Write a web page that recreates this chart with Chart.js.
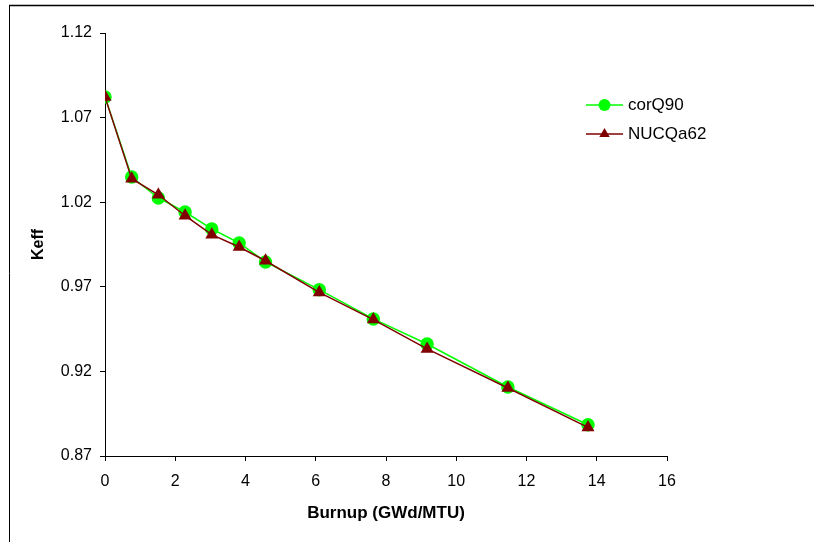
<!DOCTYPE html>
<html>
<head>
<meta charset="utf-8">
<script src="https://cdn.jsdelivr.net/npm/chart.js@4/dist/chart.umd.min.js"></script>
<style>
  html, body { margin: 0; padding: 0; background: #fff; }
  #wrap { width: 814px; height: 542px; position: relative; }
  canvas { display: block; }
</style>
</head>
<body>
<div id="wrap"><canvas id="c" width="814" height="542"></canvas></div>
<script>
// Burnup steps (GWd/MTU) and k-effective from the two libraries
const burnup = [0, 0.76, 1.52, 2.28, 3.04, 3.82, 4.57, 6.10, 7.64, 9.17, 11.47, 13.75];
const corQ90 = [1.0822, 1.0349, 1.0225, 1.0142, 1.0042, 0.9959, 0.9847, 0.9683, 0.9510, 0.9362, 0.9108, 0.8885];
const nucQa62 = [1.0822, 1.0339, 1.0244, 1.0120, 1.0008, 0.9935, 0.9854, 0.9667, 0.9506, 0.9333, 0.9102, 0.8869];

const seriesNames = ['corQ90', 'NUCQa62'];
const yTickValues = [0.87, 0.92, 0.97, 1.02, 1.07, 1.12];
const yTickLabels = ['0.87', '0.92', '0.97', '1.02', '1.07', '1.12'];
const xTickValues = [0, 2, 4, 6, 8, 10, 12, 14, 16];

const FONT = "'Liberation Sans', Arial, sans-serif";
const GREEN = '#00ff00';
const DARKRED = '#800000';

const toPoints = (xs, ys) => xs.map((x, i) => ({ x: x, y: ys[i] }));

// Outer frame (only top and left edges fall inside the canvas)
const framePlugin = {
  id: 'frame',
  beforeDraw(chart) {
    const ctx = chart.ctx;
    ctx.save();
    ctx.strokeStyle = '#000';
    ctx.lineWidth = 1.5;
    ctx.beginPath();
    ctx.moveTo(9, 5.5);
    ctx.lineTo(814, 5.5);
    ctx.stroke();
    ctx.lineWidth = 1;
    ctx.beginPath();
    ctx.moveTo(9.5, 5);
    ctx.lineTo(9.5, 542);
    ctx.stroke();
    ctx.restore();
  }
};

// Legend entries: a short line with the series marker in its middle
const legendPlugin = {
  id: 'lineLegend',
  afterDraw(chart) {
    const ctx = chart.ctx;
    const x0 = 586, x1 = 623, xm = 604.5, tx = 628;
    const rows = [105, 134];
    ctx.save();
    chart.data.datasets.forEach((ds, i) => {
      const y = rows[i];
      ctx.strokeStyle = ds.borderColor;
      ctx.lineWidth = ds.borderWidth;
      ctx.beginPath();
      ctx.moveTo(x0, y);
      ctx.lineTo(x1, y);
      ctx.stroke();
      ctx.fillStyle = ds.pointBackgroundColor;
      const r = ds.pointRadius;
      ctx.beginPath();
      if (ds.pointStyle === 'triangle') {
        ctx.moveTo(xm, y - r);
        ctx.lineTo(xm + r * Math.sin(2 * Math.PI / 3), y + r / 2);
        ctx.lineTo(xm - r * Math.sin(2 * Math.PI / 3), y + r / 2);
        ctx.closePath();
      } else {
        ctx.arc(xm, y, r, 0, Math.PI * 2);
      }
      ctx.fill();
      ctx.fillStyle = '#000';
      ctx.font = '17px ' + FONT;
      ctx.textBaseline = 'middle';
      ctx.textAlign = 'left';
      ctx.fillText(ds.label, tx, y);
    });
    ctx.restore();
  }
};

new Chart(document.getElementById('c'), {
  type: 'scatter',
  data: {
    datasets: [
      {
        label: seriesNames[0],
        data: toPoints(burnup, corQ90),
        showLine: true,
        borderColor: GREEN,
        backgroundColor: GREEN,
        pointBackgroundColor: GREEN,
        pointBorderColor: GREEN,
        borderWidth: 1.5,
        pointRadius: 6,
        pointStyle: 'circle',
        order: 1
      },
      {
        label: seriesNames[1],
        data: toPoints(burnup, nucQa62),
        showLine: true,
        borderColor: DARKRED,
        backgroundColor: DARKRED,
        pointBackgroundColor: DARKRED,
        pointBorderColor: DARKRED,
        borderWidth: 1.5,
        pointRadius: 6,
        pointStyle: 'triangle',
        order: 0
      }
    ]
  },
  options: {
    responsive: false,
    animation: false,
    events: [],
    layout: { padding: { left: 0, top: 33, right: 147, bottom: 0 } },
    plugins: {
      legend: { display: false },
      tooltip: { enabled: false }
    },
    scales: {
      x: {
        type: 'linear',
        min: 0,
        max: 16,
        afterBuildTicks(scale) {
          scale.ticks = xTickValues.map(v => ({ value: v }));
        },
        afterFit(scale) { scale.height = 86; },
        grid: {
          drawOnChartArea: false,
          drawTicks: true,
          tickLength: 5,
          color: '#000'
        },
        border: { display: true, color: '#000', width: 1 },
        ticks: {
          color: '#000',
          font: { family: FONT, size: 16 },
          padding: 11,
          maxRotation: 0
        },
        title: {
          display: true,
          text: 'Burnup (GWd/MTU)',
          color: '#000',
          font: { family: FONT, size: 17, weight: 'bold' },
          padding: { top: 0, bottom: 18 }
        }
      },
      y: {
        type: 'linear',
        min: 0.87,
        max: 1.12,
        afterBuildTicks(scale) {
          scale.ticks = yTickValues.map(v => ({ value: v }));
        },
        afterFit(scale) { scale.width = 105; },
        grid: {
          drawOnChartArea: false,
          drawTicks: true,
          tickLength: 5,
          color: '#000'
        },
        border: { display: true, color: '#000', width: 1 },
        ticks: {
          color: '#000',
          font: { family: FONT, size: 16 },
          padding: 8,
          callback(value) {
            const i = yTickValues.findIndex(v => Math.abs(v - value) < 1e-9);
            return i >= 0 ? yTickLabels[i] : '';
          }
        },
        title: {
          display: true,
          text: 'Keff',
          color: '#000',
          font: { family: FONT, size: 16, weight: 'bold' },
          padding: { top: 29, bottom: 0 }
        }
      }
    }
  },
  plugins: [framePlugin, legendPlugin]
});
</script>
</body>
</html>
